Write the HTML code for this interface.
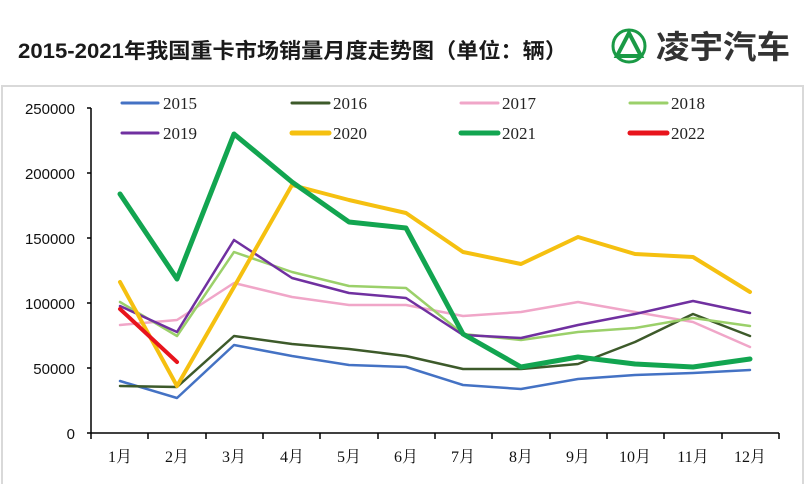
<!DOCTYPE html>
<html><head><meta charset="utf-8"><style>
html,body{margin:0;padding:0;background:#fff;}
svg{display:block;}
</style></head><body>
<svg width="804" height="484" viewBox="0 0 804 484" xmlns="http://www.w3.org/2000/svg">
<rect x="0" y="0" width="804" height="484" fill="#fff"/>
<text x="18" y="58" font-family="Liberation Sans, Noto Sans CJK SC, sans-serif" font-size="21" font-weight="bold" fill="#1a1a1a" textLength="549" lengthAdjust="spacingAndGlyphs">2015-2021年我国重卡市场销量月度走势图（单位：辆）</text>
<g>
<circle cx="629" cy="46" r="16" fill="none" stroke="#1a9a45" stroke-width="3"/>
<path d="M629 33 L641 56 L617 56 Z" fill="none" stroke="#1a9a45" stroke-width="4"/>
<text x="656" y="58" font-family="Noto Sans CJK SC, sans-serif" font-size="32" font-weight="bold" fill="#333" textLength="134" lengthAdjust="spacingAndGlyphs">凌宇汽车</text>
</g>
<rect x="2" y="86" width="801" height="400" fill="none" stroke="#d9d9d9" stroke-width="2"/>
<g font-family="Liberation Sans, sans-serif" font-size="15" fill="#111" text-anchor="end">
<text x="75" y="114">250000</text>
<text x="75" y="179">200000</text>
<text x="75" y="244">150000</text>
<text x="75" y="309">100000</text>
<text x="75" y="374">50000</text>
<text x="75" y="439">0</text>
</g>
<g stroke="#000" stroke-width="1.5">
<line x1="91" y1="108" x2="91" y2="433"/>
<line x1="91" y1="433" x2="779" y2="433"/>
<line x1="87" y1="108" x2="91" y2="108"/><line x1="87" y1="173" x2="91" y2="173"/><line x1="87" y1="238" x2="91" y2="238"/><line x1="87" y1="303" x2="91" y2="303"/><line x1="87" y1="368" x2="91" y2="368"/><line x1="87" y1="433" x2="91" y2="433"/>
<line x1="91" y1="433" x2="91" y2="439"/><line x1="148" y1="433" x2="148" y2="439"/><line x1="206" y1="433" x2="206" y2="439"/><line x1="263" y1="433" x2="263" y2="439"/><line x1="320" y1="433" x2="320" y2="439"/><line x1="378" y1="433" x2="378" y2="439"/><line x1="435" y1="433" x2="435" y2="439"/><line x1="492" y1="433" x2="492" y2="439"/><line x1="550" y1="433" x2="550" y2="439"/><line x1="607" y1="433" x2="607" y2="439"/><line x1="664" y1="433" x2="664" y2="439"/><line x1="722" y1="433" x2="722" y2="439"/><line x1="779" y1="433" x2="779" y2="439"/>
</g>
<g font-family="Liberation Serif, Noto Serif CJK SC, serif" font-size="16" fill="#111" text-anchor="middle">
<text x="120" y="462">1月</text><text x="177" y="462">2月</text><text x="234" y="462">3月</text><text x="292" y="462">4月</text><text x="349" y="462">5月</text><text x="406" y="462">6月</text><text x="463" y="462">7月</text><text x="521" y="462">8月</text><text x="578" y="462">9月</text><text x="635" y="462">10月</text><text x="693" y="462">11月</text><text x="750" y="462">12月</text>
</g>
<g fill="none" stroke-linejoin="round" stroke-linecap="round">
<polyline stroke="#4472c4" stroke-width="2.5" points="120,381 177,398 234,345 292,356 349,365 406,367 463,385 521,389 578,379 635,375 693,373 750,370"/>
<polyline stroke="#3d5a2a" stroke-width="2.5" points="120,386 177,387 234,336 292,344 349,349 406,356 463,369 521,369 578,364 635,342 693,314 750,336"/>
<polyline stroke="#f0a6c8" stroke-width="2.5" points="120,325 177,320 234,283 292,297 349,305 406,305 463,316 521,312 578,302 635,312 693,322 750,347"/>
<polyline stroke="#9bd06a" stroke-width="2.5" points="120,302 177,336 234,252 292,272 349,286 406,288 463,334 521,340 578,332 635,328 693,318 750,326"/>
<polyline stroke="#7030a0" stroke-width="2.5" points="120,306 177,332 234,240 292,278 349,293 406,298 463,335 521,338 578,325 635,314 693,301 750,313"/>
<polyline stroke="#f5c010" stroke-width="4" points="120,282 177,386 234,287 292,185 349,200 406,213 463,252 521,264 578,237 635,254 693,257 750,292"/>
<polyline stroke="#12a550" stroke-width="5" points="120,194 177,279 234,134 292,182 349,222 406,228 463,334 521,367 578,357 635,364 693,367 750,359"/>
<polyline stroke="#e8141c" stroke-width="4" points="120,309 177,362"/>
</g>
<g stroke-linecap="round">
<line x1="122" y1="103" x2="158" y2="103" stroke="#4472c4" stroke-width="3"/>
<line x1="292" y1="103" x2="329" y2="103" stroke="#3d5a2a" stroke-width="3"/>
<line x1="461" y1="103" x2="498" y2="103" stroke="#f0a6c8" stroke-width="3"/>
<line x1="630" y1="103" x2="667" y2="103" stroke="#9bd06a" stroke-width="3"/>
<line x1="122" y1="133" x2="158" y2="133" stroke="#7030a0" stroke-width="3"/>
<line x1="292" y1="133" x2="329" y2="133" stroke="#f5c010" stroke-width="5"/>
<line x1="461" y1="133" x2="498" y2="133" stroke="#12a550" stroke-width="5"/>
<line x1="630" y1="133" x2="667" y2="133" stroke="#e8141c" stroke-width="5"/>
</g>
<g font-family="Liberation Serif, serif" font-size="17" fill="#222">
<text x="163" y="109" textLength="34" lengthAdjust="spacingAndGlyphs">2015</text>
<text x="333" y="109" textLength="34" lengthAdjust="spacingAndGlyphs">2016</text>
<text x="502" y="109" textLength="34" lengthAdjust="spacingAndGlyphs">2017</text>
<text x="671" y="109" textLength="34" lengthAdjust="spacingAndGlyphs">2018</text>
<text x="163" y="139" textLength="34" lengthAdjust="spacingAndGlyphs">2019</text>
<text x="333" y="139" textLength="34" lengthAdjust="spacingAndGlyphs">2020</text>
<text x="502" y="139" textLength="34" lengthAdjust="spacingAndGlyphs">2021</text>
<text x="671" y="139" textLength="34" lengthAdjust="spacingAndGlyphs">2022</text>
</g>
</svg>
</body></html>
